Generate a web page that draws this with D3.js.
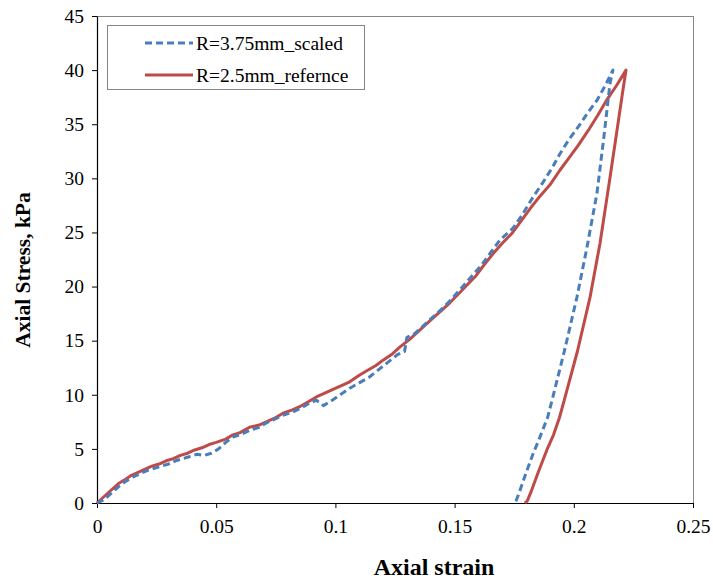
<!DOCTYPE html>
<html><head><meta charset="utf-8">
<script src="https://cdn.jsdelivr.net/npm/d3@7"></script>
<style>body{margin:0;background:#fff}svg{display:block}
.serif{font-family:"Liberation Serif","Times New Roman","DejaVu Serif",serif}</style>
</head><body>
<svg id="c" width="713" height="580"></svg>
<script>
const xTicks = [0, 0.05, 0.1, 0.15, 0.2, 0.25];
const xTickLabels = ["0", "0.05", "0.1", "0.15", "0.2", "0.25"];
const yTicks = [0, 5, 10, 15, 20, 25, 30, 35, 40, 45];
const seriesNames = ["R=3.75mm_scaled", "R=2.5mm_refernce"];
const xTitle = "Axial strain";
const yTitle = "Axial Stress, kPa";

// R=3.75mm_scaled (loading then unloading)
const scaledStrain = [0,0.003,0.006,0.009,0.012,0.015,0.018,0.021,0.024,0.027,0.030,0.033,0.036,0.039,0.042,0.045,0.048,0.051,0.054,0.057,0.060,0.064,0.068,0.071,0.075,0.078,0.082,0.085,0.089,0.092,0.095,0.098,0.102,0.106,0.110,0.114,0.118,0.122,0.126,0.129,0.130,0.133,0.137,0.141,0.145,0.149,0.153,0.157,0.161,0.165,0.169,0.1745,0.178,0.183,0.187,0.191,0.194,0.198,0.202,0.206,0.2097,0.213,0.2164,
  0.2152,0.2125,0.2097,0.2055,0.2013,0.196,0.191,0.189,0.186,0.183,0.180,0.177,0.1758,0.1753];
const scaledStress = [0,0.3,0.9,1.5,2.0,2.4,2.7,3.0,3.2,3.4,3.6,3.9,4.1,4.3,4.5,4.4,4.6,5.0,5.6,6.1,6.3,6.7,7.0,7.4,7.8,8.1,8.4,8.7,9.2,9.5,9.0,9.4,10.0,10.6,11.1,11.6,12.3,13.0,13.7,14.0,15.3,15.6,16.4,17.2,18.0,18.9,19.9,20.9,21.9,23.1,24.3,25.4,26.5,28.3,29.6,31.0,32.2,33.6,34.8,36.1,37.2,38.5,40,
  38.8,33.6,28.6,23.6,19,14,9.6,7.9,6.2,4.6,2.8,0.9,0.2,0];

// R=2.5mm_refernce (loading then unloading)
const refStrain = [0,0.003,0.006,0.009,0.012,0.014,0.017,0.020,0.023,0.026,0.029,0.032,0.035,0.038,0.041,0.044,0.047,0.050,0.054,0.057,0.060,0.064,0.068,0.071,0.075,0.078,0.082,0.085,0.089,0.092,0.096,0.099,0.103,0.106,0.110,0.113,0.117,0.120,0.124,0.127,0.131,0.134,0.138,0.141,0.145,0.148,0.152,0.155,0.159,0.162,0.166,0.170,0.174,0.178,0.182,0.186,0.190,0.194,0.198,0.202,0.206,0.210,0.214,0.218,0.2219,
  0.2205,0.2185,0.215,0.2110,0.2068,0.2015,0.196,0.194,0.1915,0.1887,0.185,0.182,0.1805,0.1795];
const refStress = [0,0.6,1.2,1.8,2.2,2.5,2.8,3.1,3.4,3.6,3.9,4.1,4.4,4.6,4.9,5.1,5.4,5.6,5.9,6.3,6.5,7.0,7.2,7.5,7.9,8.3,8.6,8.9,9.4,9.8,10.2,10.5,10.9,11.2,11.8,12.2,12.7,13.2,13.8,14.4,15.1,15.7,16.5,17.1,17.9,18.5,19.4,20.1,21.0,21.9,23.0,24.0,24.9,26.1,27.3,28.4,29.4,30.7,31.9,33.1,34.4,35.8,37.3,38.6,40,
  38.0,35.0,29.8,24.0,19.0,14.0,9.5,7.9,6.3,4.9,2.8,1.0,0.2,0];

const svg = d3.select("#c");
const L = 97, R = 693, T = 16, B = 503;
const x = d3.scaleLinear().domain([0, 0.25]).range([L, R]);
const y = d3.scaleLinear().domain([0, 45]).range([B, T]);

// frame top/right
svg.append("line").attr("x1", L).attr("x2", R).attr("y1", T + 0.5).attr("y2", T + 0.5).attr("stroke", "#868686").attr("stroke-width", 1);
svg.append("line").attr("x1", R + 0.5).attr("x2", R + 0.5).attr("y1", T).attr("y2", B).attr("stroke", "#868686").attr("stroke-width", 1);

const xAxis = svg.append("g").attr("transform", `translate(0,${B})`)
  .call(d3.axisBottom(x).tickValues(xTicks).tickFormat((d, i) => xTickLabels[i]).tickSize(5).tickSizeOuter(0));
const yAxis = svg.append("g").attr("transform", `translate(${L},0)`)
  .call(d3.axisLeft(y).tickValues(yTicks).tickSize(5).tickSizeOuter(0));
[xAxis, yAxis].forEach(g => {
  g.attr("font-family", null).attr("font-size", null).attr("class", "serif");
  g.select(".domain").attr("stroke", "#000").attr("stroke-width", 1.2);
  g.selectAll(".tick line").attr("stroke", "#000");
  g.selectAll("text").attr("font-size", 19.5).attr("fill", "#000");
});
xAxis.selectAll("text").attr("dy", "0").attr("y", 30);
yAxis.selectAll("text").attr("x", -13);

svg.append("text").attr("class", "serif").attr("x", 434).attr("y", 575).attr("text-anchor", "middle")
  .attr("font-weight", "bold").attr("font-size", 24).text(xTitle);
svg.append("text").attr("class", "serif").attr("transform", "translate(30,270) rotate(-90)").attr("text-anchor", "middle")
  .attr("font-weight", "bold").attr("font-size", 21.5).text(yTitle);

const line = d3.line().x(d => x(d[0])).y(d => y(d[1]));
const refData = refStrain.map((s, i) => [s, refStress[i]]);
const scaledData = scaledStrain.map((s, i) => [s, scaledStress[i]]);
const colors = ["#4a7ebb", "#be4b48"];

svg.append("path").datum(refData).attr("d", line).attr("fill", "none")
  .attr("stroke", colors[1]).attr("stroke-width", 3).attr("stroke-linejoin", "round");
svg.append("path").datum(scaledData).attr("d", line).attr("fill", "none")
  .attr("stroke", colors[0]).attr("stroke-width", 3).attr("stroke-dasharray", "7,4").attr("stroke-linejoin", "round");

// legend
const lg = svg.append("g");
lg.append("rect").attr("x", 107.5).attr("y", 25.5).attr("width", 257).attr("height", 64)
  .attr("fill", "#fff").attr("stroke", "#868686").attr("stroke-width", 1);
const rowsY = [43, 75];
seriesNames.forEach((n, i) => {
  lg.append("line").attr("x1", 145).attr("x2", 193).attr("y1", rowsY[i]).attr("y2", rowsY[i])
    .attr("stroke", colors[i]).attr("stroke-width", 3).attr("stroke-dasharray", i === 0 ? "7,4" : null);
  lg.append("text").attr("class", "serif").attr("x", 196).attr("y", rowsY[i] + 6.5).attr("font-size", 19.5).text(n);
});
</script>
</body></html>
